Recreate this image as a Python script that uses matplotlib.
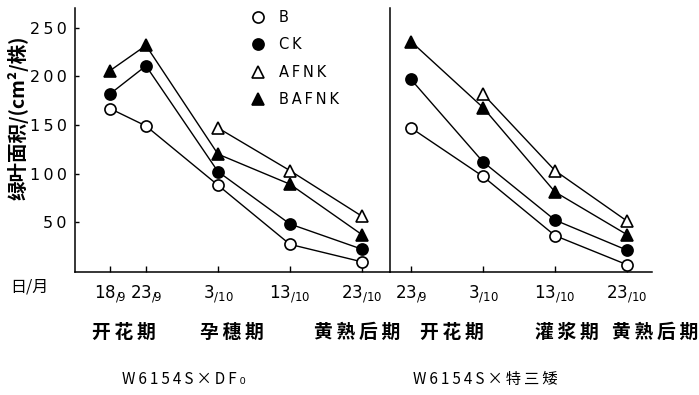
import matplotlib
matplotlib.use("Agg")
import matplotlib.pyplot as plt
from matplotlib.lines import Line2D

plt.rcParams['font.family'] = ['DejaVu Sans', 'Noto Sans CJK SC']
CJK = ['Noto Sans CJK SC', 'DejaVu Sans']
TS = '\u2009'  # thin space for letter spacing

# ---- data ----
series = ['B', 'CK', 'AFNK', 'BAFNK']
# day-of-year positions of sampling dates
left_days = [261, 266, 276, 286, 296]          # 18/9, 23/9, 3/10, 13/10, 23/10
left_ticklabels = ['18/9', '23/9', '3/10', '13/10', '23/10']
right_days = [266, 276, 286, 296]               # 23/9, 3/10, 13/10, 23/10
right_ticklabels = ['23/9', '3/10', '13/10', '23/10']

left_B = [167, 149, 88, 27, 9]
left_CK = [182, 211, 102, 48, 22]
left_AFNK = [None, None, 147, 103, 56]
left_BAFNK = [206, 232, 120, 89, 37]

right_B = [147, 97, 36, 6]
right_CK = [197, 112, 52, 21]
right_AFNK = [None, 182, 103, 51]
right_BAFNK = [236, 168, 81, 37]

yticks = [50, 100, 150, 200, 250]
stages = [('开花期', 124), ('孕穗期', 232), ('黄熟后期', 357),
          ('开花期', 452), ('灌浆期', 567), ('黄熟后期', 655)]
captions = [('W6154S×DF₀', 184), ('W6154S×特三矮', 485)]

W, H = 699, 395
fig = plt.figure(figsize=(W / 100, H / 100), dpi=100)

def px_axes(x0, x1, y0, y1):
    return fig.add_axes([x0 / W, 1 - y1 / H, (x1 - x0) / W, (y1 - y0) / H])

ax1 = px_axes(75, 390, 8, 272)
ax2 = px_axes(390, 652, 8, 272)

styles = {
    'B': dict(marker='o', mfc='white', mec='black'),
    'CK': dict(marker='o', mfc='black', mec='black'),
    'AFNK': dict(marker='^', mfc='white', mec='black'),
    'BAFNK': dict(marker='^', mfc='black', mec='black'),
}

def draw(ax, days, data):
    for name, vals in zip(series, data):
        xs = [d for d, v in zip(days, vals) if v is not None]
        ys = [v for v in vals if v is not None]
        st = styles[name]
        ms = 8 if st['marker'] == 'o' else 8.5
        ax.plot(xs, ys, color='black', lw=1.0, ms=ms, mew=1.2, clip_on=False,
                zorder=3, **st)

draw(ax1, left_days, [left_B, left_CK, left_AFNK, left_BAFNK])
draw(ax2, right_days, [right_B, right_CK, right_AFNK, right_BAFNK])

for ax in (ax1, ax2):
    ax.set_ylim(-1.5, 270.6)
    for s in ('top', 'right'):
        ax.spines[s].set_visible(False)
    ax.spines['left'].set_linewidth(1.1)
    ax.spines['bottom'].set_linewidth(1.1)
    ax.patch.set_alpha(0)

ax1.set_xlim(256.14, 299.9)
ax2.set_xlim(263.08, 299.47)

def fmt(lbl):
    a, b = lbl.split('/')
    return r'$\mathregular{%s}_{\mathregular{/%s}}$' % (a, b)

ax1.set_xticks(left_days)
ax1.set_xticklabels([fmt(l) for l in left_ticklabels])
ax2.set_xticks(right_days)
ax2.set_xticklabels([fmt(l) for l in right_ticklabels])
for ax in (ax1, ax2):
    ax.tick_params(axis='x', direction='in', length=4, width=1, labelsize=12, pad=8)

ax1.set_yticks(yticks)
ax1.set_yticklabels([TS.join(str(v)) for v in yticks])
ax1.tick_params(axis='y', direction='in', length=3, width=1, labelsize=11.5, pad=6)
ax2.set_yticks([])

fig.text(18 / W, 1 - 118 / H, '绿叶面积/(cm²/株)', family=CJK, fontsize=14,
         fontweight='bold', rotation=90, ha='center', va='center')

handles = [Line2D([], [], ls='none', ms=8, mew=1.2, color='black', **styles[n]) for n in series]
fig.legend(handles, [TS.join(s) for s in series], loc='upper left',
           bbox_to_anchor=(251 / W, 1 - 10 / H),
           frameon=False, fontsize=10.5, labelspacing=0.85, handletextpad=0.9,
           handlelength=1.0, borderaxespad=0, borderpad=0)

fig.text(10 / W, 1 - 287 / H, '日/月', family=CJK, fontsize=11.5, va='center', ha='left')
for txt, x in stages:
    fig.text(x / W, 1 - 332 / H, TS.join(txt), family=CJK, fontsize=13.5, fontweight='bold',
             ha='center', va='center')
for txt, x in captions:
    fig.text(x / W, 1 - 379 / H, TS.join(txt), family=CJK, fontsize=11, ha='center', va='center')

fig.savefig('out.png', dpi=100)
